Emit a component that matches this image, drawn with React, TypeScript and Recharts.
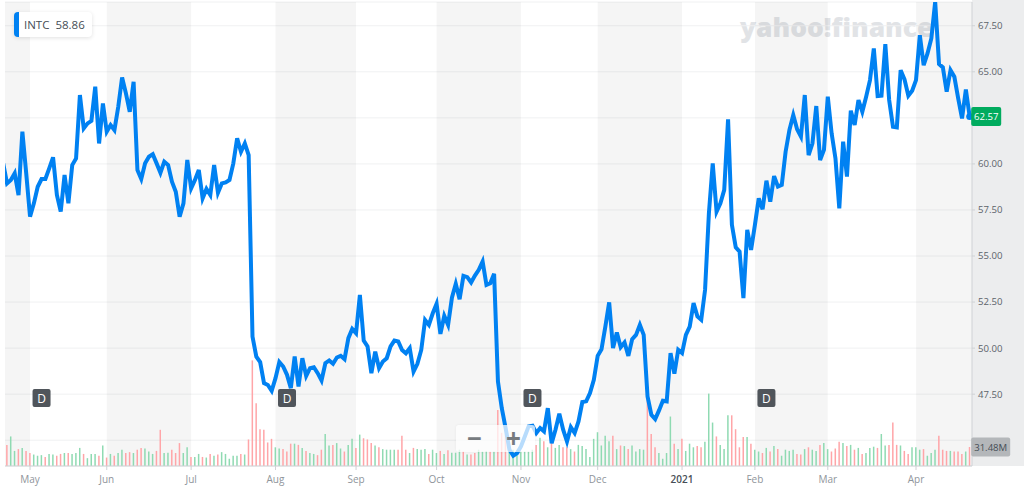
import { Bar, CartesianGrid, Cell, ComposedChart, Line, ReferenceArea, ReferenceDot, XAxis, YAxis } from 'recharts'

// daily closes (first one sits just left of the plot and gets clipped)
const prices = [
  60.03,
  58.94, 59.13, 59.49, 58.31, 61.75, 59.49, 57.14, 57.86, 58.76, 59.18,
  59.18, 59.76, 60.36, 58.31, 57.41, 59.4, 57.86, 59.94, 60.3, 63.74,
  61.93, 62.2, 62.34, 64.19, 61.11, 63.28, 61.75, 62.11, 61.84, 63.1,
  64.69, 63.83, 62.83, 64.46, 59.67, 59.18, 60.03, 60.39, 60.53, 60.03,
  59.52, 60.12, 59.94, 59.03, 58.49, 57.14, 57.86, 60.21, 58.67, 59.13,
  59.67, 58.13, 58.64, 58.31, 59.94, 58.44, 58.94, 59.0, 59.13, 60.03,
  61.39, 60.66, 61.11, 60.48, 50.63, 49.54, 49.24, 48.1, 48.0, 47.68,
  48.37, 49.24, 49.0, 48.55, 47.83, 49.54, 47.92, 49.45, 48.49, 48.91,
  48.96, 48.64, 48.24, 49.18, 49.33, 49.15, 49.49, 49.58, 49.4, 50.54,
  51.04, 50.81, 52.89, 50.41, 50.09, 48.64, 49.81, 48.91, 49.27, 49.45,
  50.09, 50.41, 50.36, 49.9, 49.72, 50.0, 48.73, 49.15, 49.9, 51.53,
  51.26, 51.89, 52.4, 50.77, 51.75, 51.26, 52.74, 53.49, 52.65, 53.92,
  53.85, 53.56, 53.94, 54.25, 54.7, 53.43, 53.52, 54.03, 48.19, 46.74,
  45.66, 44.48, 44.16, 44.3, 44.66, 45.2, 45.75, 45.79, 45.39, 45.66,
  45.48, 46.74, 44.84, 45.57, 46.44, 45.57, 44.93, 45.71, 45.39, 46.02,
  47.07, 47.11, 47.56, 48.28, 49.58, 49.94, 51.17, 52.48, 50.0, 50.85,
  50.05, 50.31, 49.58, 50.49, 50.72, 51.26, 50.72, 47.38, 46.38, 46.15,
  46.62, 47.14, 47.11, 49.73, 48.61, 49.91, 49.73, 50.72, 51.17, 52.44,
  51.72, 51.54, 53.16, 57.32, 60.03, 57.41, 57.86, 58.59, 62.42, 56.69,
  55.47, 55.24, 52.71, 56.42, 55.33, 56.69, 58.13, 57.54, 59.09, 57.95,
  59.34, 58.77, 58.86, 60.66, 61.84, 62.65, 61.88, 61.48, 63.74, 60.48,
  61.12, 63.14, 60.21, 60.76, 63.65, 61.66, 60.3, 57.59, 61.21, 59.31,
  62.89, 62.11, 63.47, 62.83, 63.65, 64.55, 66.27, 63.68, 63.7, 66.5,
  63.47, 62.02, 61.98, 65.09, 64.59, 63.7, 63.97, 64.55, 66.99, 65.36,
  66.0, 66.81, 68.8, 65.42, 65.24, 63.92, 65.09, 64.73, 63.56, 62.47,
  64.04, 62.56,
]

// volume in millions
const volumes = [
  0,
  35, 49, 25, 28, 30, 25, 21.5, 19, 17, 18,
  15, 20, 19, 17, 20, 21.5, 21.5, 20, 21.5, 30,
  20, 13, 20, 20, 17, 34, 14, 20, 17, 21.5,
  27, 21.5, 23, 21.5, 27, 30, 29, 24, 20, 25,
  60, 21.5, 22, 27, 21.5, 38, 21.5, 31, 15, 15,
  20, 15, 14, 20, 17, 19, 23, 20, 12, 17,
  17, 20, 19, 44, 175, 104, 61, 60, 39, 45,
  31, 29, 28, 24, 37, 37, 35, 30, 25, 21.5,
  20, 18, 27, 53, 34, 35, 38, 29, 24, 35,
  45, 30, 52, 46, 44, 38, 34, 31, 28, 27,
  27, 27, 27, 50, 27, 21.5, 30, 28, 27, 28,
  20, 27, 21.5, 25, 20, 26, 22, 22, 27, 24,
  19, 19, 21.5, 27, 24, 25, 24, 24, 93, 55,
  52, 32, 27, 27, 24, 24, 24, 27, 35, 47,
  41, 31, 41, 30, 35, 31, 31, 28, 24, 35,
  33, 28, 15, 45, 56, 34, 50, 41, 50, 28,
  34, 33, 28, 34, 24, 28, 27, 113, 53, 31,
  21.5, 12, 21.5, 82, 37, 28, 45, 25, 37, 31,
  33, 31, 40, 120, 72, 49, 35, 28, 84, 84,
  61, 31, 48, 48, 37, 27, 24, 21.5, 30, 24,
  33, 28, 17, 27, 25, 27, 20, 19, 28, 31,
  27, 25, 35, 38, 28, 24, 29, 40, 38, 33,
  35, 27, 30, 20, 21.5, 30, 32, 30, 53, 34,
  35, 72, 35, 34, 25, 20, 31, 31, 27, 28,
  17, 21.5, 27, 50, 27, 25, 25, 24, 24, 20,
  24, 31.48,
]

// g = up day, r = down day
const volumeSides = [
  'r',
  'rggrgrrggg', 'rggrrgrggg', 'rgggrgrgrg', 'grrgrrgggr', 'rggrrrggrg',
  'grgrgrgggg', 'grgrrrrrrr', 'ggrrrgrgrg', 'grrggrggrg', 'grgrrrgrgg',
  'ggrrrgrggg', 'rggrgrgggr', 'grrgggrgrr', 'rgggggggrg', 'rgrggrrgrg',
  'ggggggggrg', 'rgrggggrrr', 'ggggrgrggg', 'rrgggrgggr', 'rrrgrggrgr',
  'grggggrrgr', 'ggrggrrrgr', 'grgrgggrgg', 'rrrgrrgggr', 'gggrrrgrrr',
  'gr',
].join('')

const priceTicks = [45, 47.5, 50, 52.5, 55, 57.5, 60, 62.5, 65, 67.5]
// these two sit behind the price and volume tags in the original
const coveredTicks = [45, 62.5]
const monthDays = [7, 27, 49, 71, 92, 113, 135, 155, 177, 196, 215, 238]
const monthLabels = ['May', 'Jun', 'Jul', 'Aug', 'Sep', 'Oct', 'Nov', 'Dec', '2021', 'Feb', 'Mar', 'Apr']
const dividendDays = [10, 74, 138, 199]

const firstDay = 0.47
const lastDay = 252.6
const shadedMonths = [
  [firstDay, 7], [27, 49], [71, 92], [113, 135], [155, 177], [196, 215], [238, lastDay],
]

const lastClose = 62.57
const lastVolume = 31.48
const dividendLevel = 47.29

const data = prices.map((price, day) => ({
  day,
  price,
  volume: volumes[day],
}))

const fontFamily = '"Open Sans", sans-serif'

function MonthTick({ x, y, payload }: any) {
  const label = monthLabels[monthDays.indexOf(payload.value)]
  const isYear = label === '2021'
  return (
    <text x={x} y={y + 13} textAnchor="middle" fontFamily={fontFamily} fontSize={10}
      fill={isYear ? '#464e56' : '#8f959b'} fontWeight={isYear ? 600 : 400}>
      {label}
    </text>
  )
}

function DividendMark({ cx, cy }: any) {
  return (
    <g>
      <rect x={cx - 9} y={cy - 9} width={18} height={18} rx={2} fill="#50555b" />
      <text x={cx} y={cy + 4.5} textAnchor="middle" fontFamily={fontFamily} fontSize={12} fill="#fff">D</text>
    </g>
  )
}

function PriceTag({ cx, cy }: any) {
  return (
    <g>
      <circle cx={cx} cy={cy} r={3.5} fill="#0081f2" />
      <rect x={cx + 1.5} y={cy - 9.5} width={30} height={19} rx={2} fill="#00ab5e" />
      <text x={cx + 16.5} y={cy + 3.5} textAnchor="middle" fontFamily={fontFamily} fontSize={9.6} fill="#fff">
        {lastClose.toFixed(2)}
      </text>
    </g>
  )
}

function VolumeTag({ cx, cy }: any) {
  return (
    <g>
      <rect x={cx + 1.5} y={cy - 9.5} width={39} height={19} rx={2} fill="#b4b7ba" />
      <text x={cx + 21} y={cy + 3.5} textAnchor="middle" fontFamily={fontFamily} fontSize={9.6} fill="#464e56">
        {lastVolume.toFixed(2)}M
      </text>
    </g>
  )
}

export default function App() {
  return (
    <div style={{ position: 'absolute', left: 0, top: 0, width: 1024, height: 495, background: '#fff', overflow: 'hidden' }}>
      <div style={{ position: 'absolute', left: 972, top: 0, width: 52, height: 466, background: '#ecedee' }} />
      <div style={{
        position: 'absolute', left: 740, top: 6, fontFamily, fontWeight: 800,
        fontSize: 26.4, color: '#e1e3e6', lineHeight: '42px', whiteSpace: 'nowrap',
      }}>
        yahoo!finance
      </div>
      <div style={{ position: 'absolute', left: 0, top: 0 }}>
        <ComposedChart width={1024} height={495} data={data} margin={{ top: 2, right: 0, left: 5, bottom: 0 }}>
          <CartesianGrid horizontal vertical={false} stroke="#f0f1f2" yAxisId="price" />
          <XAxis dataKey="day" type="number" domain={[firstDay, lastDay]} allowDataOverflow
            ticks={monthDays} interval={0} height={29} tickSize={4} tickMargin={0}
            stroke="#cfd2d5" tick={<MonthTick />} />
          <YAxis yAxisId="price" orientation="right" width={52} domain={[43.6, 68.79]} allowDataOverflow
            ticks={priceTicks} interval={0} tickSize={3} tickMargin={3} stroke="#cfd2d5"
            tickFormatter={(v: number) => (coveredTicks.includes(v) ? '' : v.toFixed(2))}
            tick={{ fontSize: 9.6, fill: '#5b636a', fontFamily, textAnchor: 'start' }} />
          <YAxis yAxisId="volume" hide domain={[0, 769]} />
          {shadedMonths.map(([from, to]) => (
            <ReferenceArea key={from} yAxisId="price" x1={from} x2={to} fill="#000" fillOpacity={0.04} stroke="none" />
          ))}
          <Bar yAxisId="volume" dataKey="volume" barSize={1.5} isAnimationActive={false}>
            {data.map((d) => (
              <Cell key={d.day} fill={volumeSides[d.day] === 'g' ? '#8fdab2' : '#ffa5a8'} />
            ))}
          </Bar>
          <Line yAxisId="price" dataKey="price" stroke="#0081f2" strokeWidth={4} dot={false} isAnimationActive={false} />
          {dividendDays.map((day) => (
            <ReferenceDot key={day} yAxisId="price" x={day} y={dividendLevel} ifOverflow="visible" shape={<DividendMark />} />
          ))}
          <ReferenceDot yAxisId="volume" x={252} y={lastVolume} ifOverflow="visible" shape={<VolumeTag />} />
          <ReferenceDot yAxisId="price" x={252} y={lastClose} ifOverflow="visible" shape={<PriceTag />} />
        </ComposedChart>
      </div>
      <div style={{
        position: 'absolute', left: 14, top: 12, width: 78, height: 25, boxSizing: 'border-box', background: '#fff',
        borderLeft: '5px solid #0081f2', borderRadius: 4, boxShadow: '0 1px 4px rgba(0,0,0,0.12)',
        fontFamily, fontSize: 11.5, fontWeight: 500, color: '#464e56', lineHeight: '25px', paddingLeft: 5, whiteSpace: 'pre',
      }}>
        {'INTC  58.86'}
      </div>
      <div style={{
        position: 'absolute', left: 456, top: 425, width: 79, height: 27, background: 'rgba(255,255,255,0.72)',
        borderRadius: 3, boxShadow: '0 0 3px rgba(0,0,0,0.06)', fontFamily, fontWeight: 700, fontSize: 26,
        color: '#777b7f', lineHeight: '26px',
      }}>
        <span style={{ position: 'absolute', left: 11 }}>−</span>
        <span style={{ position: 'absolute', left: 50 }}>+</span>
      </div>
    </div>
  )
}
